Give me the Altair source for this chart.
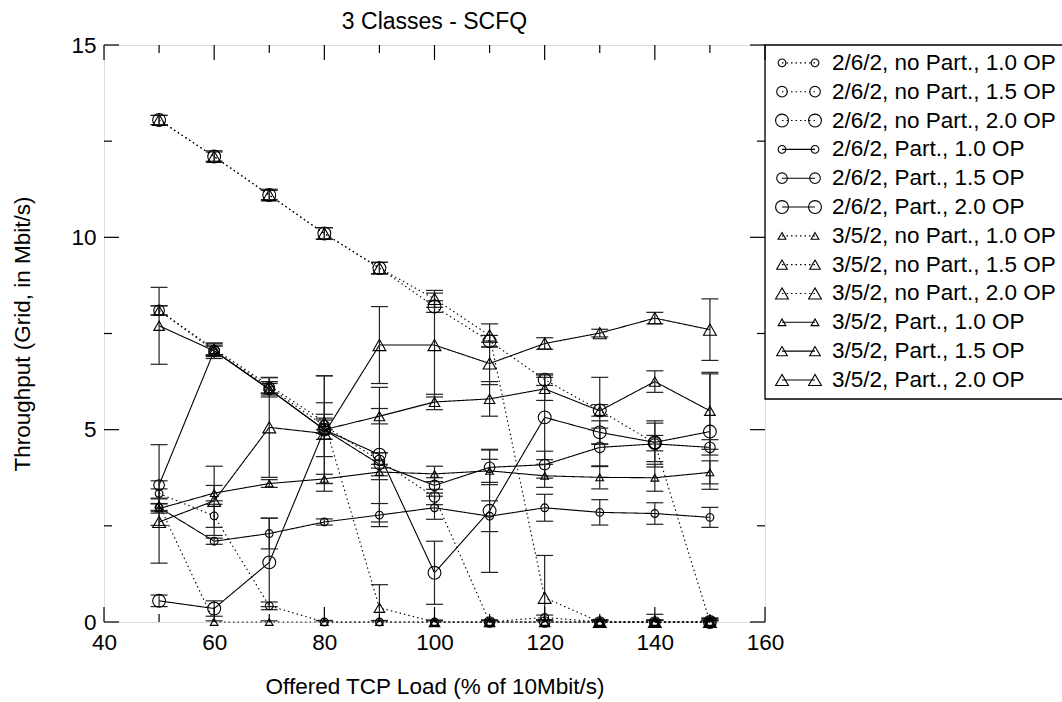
import altair as alt
import pandas as pd

# ---------------- data ----------------
LOAD = [50, 60, 70, 80, 90, 100, 110, 120, 130, 140, 150]

# 2/6/2, no Part.
Y_A_NP_10 = [3.34, 2.76, 0.42, 0.0, 0.0, 0.0, 0.0, 0.12, 0.0, 0.0, 0.0]
E_A_NP_10 = [0.12, 0.30, 0.10, 0.04, 0.04, 0.04, 0.04, 0.06, 0.04, 0.04, 0.04]
Y_A_NP_15 = [8.10, 7.05, 6.10, 5.10, 4.20, 3.25, 0.0, 0.0, 0.0, 0.0, 0.0]
E_A_NP_15 = [0.12, 0.12, 0.15, 0.20, 0.20, 0.20, 0.05, 0.05, 0.05, 0.05, 0.08]
Y_A_NP_20 = [13.05, 12.10, 11.10, 10.10, 9.20, 8.20, 7.30, 6.30, 5.50, 4.65, 0.0]
E_A_NP_20 = [0.12, 0.12, 0.12, 0.15, 0.15, 0.15, 0.15, 0.15, 0.15, 0.20, 0.10]
# 2/6/2, Part.
Y_A_P_10 = [2.98, 2.10, 2.30, 2.60, 2.78, 2.97, 2.75, 2.97, 2.85, 2.82, 2.72]
E_A_P_10 = [0.10, 0.08, 0.40, 0.08, 0.30, 0.30, 0.40, 0.35, 0.33, 0.28, 0.26]
Y_A_P_15 = [3.56, 7.05, 6.05, 5.00, 4.10, 3.55, 4.02, 4.09, 4.54, 4.63, 4.54]
E_A_P_15 = [1.05, 0.15, 0.15, 0.25, 0.30, 0.20, 0.45, 0.35, 0.50, 0.60, 0.20]
Y_A_P_20 = [0.55, 0.35, 1.55, 5.00, 4.35, 1.28, 2.89, 5.32, 4.93, 4.67, 4.95]
E_A_P_20 = [0.15, 0.20, 1.15, 1.40, 1.75, 0.82, 1.60, 1.10, 0.30, 0.50, 1.50]
# 3/5/2, no Part.
Y_B_NP_10 = [3.05, 0.0, 0.0, 0.0, 0.0, 0.0, 0.0, 0.0, 0.0, 0.0, 0.0]
E_B_NP_10 = [0.15, 0.03, 0.03, 0.03, 0.03, 0.03, 0.03, 0.03, 0.03, 0.20, 0.03]
Y_B_NP_15 = [8.10, 7.10, 6.15, 5.20, 0.37, 0.0, 0.0, 0.0, 0.0, 0.0, 0.0]
E_B_NP_15 = [0.12, 0.15, 0.20, 0.20, 0.60, 0.05, 0.05, 0.05, 0.05, 0.05, 0.05]
Y_B_NP_20 = [13.05, 12.10, 11.10, 10.10, 9.20, 8.40, 7.45, 0.63, 0.0, 0.0, 0.0]
E_B_NP_20 = [0.12, 0.15, 0.15, 0.15, 0.15, 0.22, 0.30, 1.10, 0.05, 0.05, 0.10]
# 3/5/2, Part.
Y_B_P_10 = [2.95, 3.35, 3.60, 3.72, 3.90, 3.85, 3.93, 3.80, 3.76, 3.75, 3.89]
E_B_P_10 = [0.12, 0.20, 0.10, 0.12, 0.20, 0.20, 0.30, 0.30, 0.30, 0.35, 0.30]
Y_B_P_15 = [7.70, 7.05, 6.05, 5.00, 5.35, 5.72, 5.80, 6.06, 5.49, 6.25, 5.49]
E_B_P_15 = [1.00, 0.20, 0.20, 0.70, 0.20, 0.20, 0.45, 0.30, 0.87, 0.28, 1.00]
Y_B_P_20 = [2.60, 3.15, 5.06, 4.90, 7.20, 7.20, 6.72, 7.24, 7.51, 7.90, 7.60]
E_B_P_20 = [1.07, 0.90, 1.30, 1.50, 1.00, 1.35, 0.55, 0.15, 0.10, 0.15, 0.80]

SERIES = [
    ("2/6/2, no Part., 1.0 OP", "2/6/2", "no Part.", "1.0 OP", Y_A_NP_10, E_A_NP_10),
    ("2/6/2, no Part., 1.5 OP", "2/6/2", "no Part.", "1.5 OP", Y_A_NP_15, E_A_NP_15),
    ("2/6/2, no Part., 2.0 OP", "2/6/2", "no Part.", "2.0 OP", Y_A_NP_20, E_A_NP_20),
    ("2/6/2, Part., 1.0 OP", "2/6/2", "Part.", "1.0 OP", Y_A_P_10, E_A_P_10),
    ("2/6/2, Part., 1.5 OP", "2/6/2", "Part.", "1.5 OP", Y_A_P_15, E_A_P_15),
    ("2/6/2, Part., 2.0 OP", "2/6/2", "Part.", "2.0 OP", Y_A_P_20, E_A_P_20),
    ("3/5/2, no Part., 1.0 OP", "3/5/2", "no Part.", "1.0 OP", Y_B_NP_10, E_B_NP_10),
    ("3/5/2, no Part., 1.5 OP", "3/5/2", "no Part.", "1.5 OP", Y_B_NP_15, E_B_NP_15),
    ("3/5/2, no Part., 2.0 OP", "3/5/2", "no Part.", "2.0 OP", Y_B_NP_20, E_B_NP_20),
    ("3/5/2, Part., 1.0 OP", "3/5/2", "Part.", "1.0 OP", Y_B_P_10, E_B_P_10),
    ("3/5/2, Part., 1.5 OP", "3/5/2", "Part.", "1.5 OP", Y_B_P_15, E_B_P_15),
    ("3/5/2, Part., 2.0 OP", "3/5/2", "Part.", "2.0 OP", Y_B_P_20, E_B_P_20),
]

X_LABELS = [40, 60, 80, 100, 120, 140, 160]
X_MINOR = [50, 70, 90, 110, 130, 150]
Y_LABELS = [0, 5, 10, 15]
Y_MINOR = [2.5, 7.5, 12.5]

# ---------------- tables ----------------
rows = []
for label, cfg, part, op, ys_, es_ in SERIES:
    for x, y, e in zip(LOAD, ys_, es_):
        rows.append(dict(series=label, cfg=cfg, part=part, op=op,
                         load=x, tput=y, lo=y - e, hi=y + e))
df = pd.DataFrame(rows)

leg_df = pd.DataFrame([dict(label=s[0], cfg=s[1], part=s[2], op=s[3], row=i)
                       for i, s in enumerate(SERIES)])

# ---------------- layout / style ----------------
FONT = "Liberation Sans"
FS = 22.5
W, H = 661, 577
LEG_W, LEG_H = 297, 354
X_DOM = [40, 160]
Y_DOM = [0, 15]
MAJOR_PX, MINOR_PX = 15, 8
ux = (X_DOM[1] - X_DOM[0]) / W
uy = (Y_DOM[1] - Y_DOM[0]) / H

tick_rows = []
for v in X_LABELS + X_MINOR:
    L = (MAJOR_PX if v in X_LABELS else MINOR_PX) * uy
    tick_rows.append(dict(tx=v, tx2=v, ty=Y_DOM[0], ty2=Y_DOM[0] + L))
    tick_rows.append(dict(tx=v, tx2=v, ty=Y_DOM[1], ty2=Y_DOM[1] - L))
for v in Y_LABELS + Y_MINOR:
    L = (MAJOR_PX if v in Y_LABELS else MINOR_PX) * ux
    tick_rows.append(dict(tx=X_DOM[0], tx2=X_DOM[0] + L, ty=v, ty2=v))
    tick_rows.append(dict(tx=X_DOM[1], tx2=X_DOM[1] - L, ty=v, ty2=v))
tick_df = pd.DataFrame(tick_rows)

xs = alt.Scale(domain=X_DOM, nice=False, zero=False)
ys = alt.Scale(domain=Y_DOM, nice=False, zero=False)

x_axis = alt.Axis(values=X_LABELS, ticks=False, domain=False, grid=False,
                  labelFlush=False, labelOverlap=False,
                  labelFont=FONT, labelFontSize=FS, labelColor="black", labelPadding=9,
                  title="Offered TCP Load (% of 10Mbit/s)", titleFont=FONT,
                  titleFontSize=FS, titleFontWeight="normal", titleColor="black",
                  titlePadding=22)
y_axis = alt.Axis(values=Y_LABELS, ticks=False, domain=False, grid=False,
                  labelOverlap=False,
                  labelFont=FONT, labelFontSize=FS, labelColor="black", labelPadding=8,
                  title="Throughput (Grid, in Mbit/s)", titleFont=FONT,
                  titleFontSize=FS, titleFontWeight="normal", titleColor="black",
                  titlePadding=36)


def X(field):
    return alt.X(field, type="quantitative", scale=xs, axis=x_axis)


def Y(field):
    return alt.Y(field, type="quantitative", scale=ys, axis=y_axis)


shape_scale = alt.Scale(domain=["2/6/2", "3/5/2"], range=["circle", "triangle-up"])
size_scale = alt.Scale(domain=["1.0 OP", "1.5 OP", "2.0 OP"], range=[60, 165, 320])
dash_scale = alt.Scale(domain=["no Part.", "Part."], range=[[1.5, 3], [1, 0]])

shape_enc = alt.Shape("cfg:N", scale=shape_scale, legend=None)
size_enc = alt.Size("op:N", scale=size_scale, legend=None)
dash_enc = alt.StrokeDash("part:N", scale=dash_scale, legend=None)

base = alt.Chart(df)
lines = base.mark_line(color="black", strokeWidth=1.1).encode(
    x=X("load"), y=Y("tput"), detail="series:N", strokeDash=dash_enc,
    order="load:Q")
err = base.mark_rule(color="#222", strokeWidth=1.2, clip=True).encode(
    x=X("load"), y=Y("lo"), y2="hi:Q")
cap_lo = base.mark_tick(orient="horizontal", size=17, thickness=1.2,
                        color="#222", clip=True, opacity=1).encode(x=X("load"), y=Y("lo"))
cap_hi = base.mark_tick(orient="horizontal", size=17, thickness=1.2,
                        color="#222", clip=True, opacity=1).encode(x=X("load"), y=Y("hi"))
points = base.mark_point(filled=False, color="black", strokeWidth=1.1, opacity=1).encode(
    x=X("load"), y=Y("tput"), shape=shape_enc, size=size_enc)
frame_ticks = alt.Chart(tick_df).mark_rule(color="black", strokeWidth=1.2).encode(
    x=X("tx"), x2="tx2:Q", y=Y("ty"), y2="ty2:Q")

plot = alt.layer(lines, err, cap_lo, cap_hi, points, frame_ticks)

# ---------------- legend (own scales, to the right of the plot) ----------------
ROW_TOP, ROW_BOT = -0.62, len(SERIES) - 1 + 0.66
lx = alt.Scale(domain=[0, 1], range=[W, W + LEG_W], nice=False, zero=False)
ly = alt.Scale(domain=[ROW_TOP, ROW_BOT], range=[0, LEG_H], nice=False, zero=False)
SAMPLE_A, SAMPLE_B, TEXT_X = 17 / LEG_W, 50 / LEG_W, 67 / LEG_W

lbase = alt.Chart(leg_df)
box = alt.Chart(pd.DataFrame({"k": [0]})).mark_rect(
    fillOpacity=0, stroke="black", strokeWidth=1.3).encode(
    x=alt.X(datum=0, scale=lx, axis=None), x2=alt.X2(datum=1.2),
    y=alt.Y(datum=ROW_TOP, scale=ly, axis=None), y2=alt.Y2(datum=ROW_BOT))
leg_line = lbase.mark_rule(color="black", strokeWidth=1.1).encode(
    x=alt.X(datum=SAMPLE_A, scale=lx, axis=None), x2=alt.X2(datum=SAMPLE_B),
    y=alt.Y("row:Q", scale=ly, axis=None), strokeDash=dash_enc)
leg_pa = lbase.mark_point(filled=False, color="black", strokeWidth=1.1, opacity=1).encode(
    x=alt.X(datum=SAMPLE_A, scale=lx, axis=None),
    y=alt.Y("row:Q", scale=ly, axis=None), shape=shape_enc, size=size_enc)
leg_pb = lbase.mark_point(filled=False, color="black", strokeWidth=1.1, opacity=1).encode(
    x=alt.X(datum=SAMPLE_B, scale=lx, axis=None),
    y=alt.Y("row:Q", scale=ly, axis=None), shape=shape_enc, size=size_enc)
leg_text = lbase.mark_text(align="left", baseline="middle", font=FONT, fontSize=FS,
                           color="black").encode(
    x=alt.X(datum=TEXT_X, scale=lx, axis=None),
    y=alt.Y("row:Q", scale=ly, axis=None), text="label:N")

legend = alt.layer(box, leg_line, leg_pa, leg_pb, leg_text)

chart = alt.layer(plot, legend).resolve_scale(
    x="independent", y="independent"
).properties(
    width=W, height=H,
    title=alt.TitleParams("3 Classes - SCFQ", font=FONT, fontSize=23,
                          fontWeight="normal", color="black", anchor="middle",
                          frame="group", baseline="alphabetic", offset=12, dy=30),
    autosize=alt.AutoSizeParams(type="none"),
    padding={"left": 104, "top": 45, "right": 1062 - 104 - W, "bottom": 702 - 45 - H},
).configure_view(
    stroke="black", strokeWidth=1.3
).configure(background="white")

chart.save("out.html", embed_options={"renderer": "svg", "actions": False})
